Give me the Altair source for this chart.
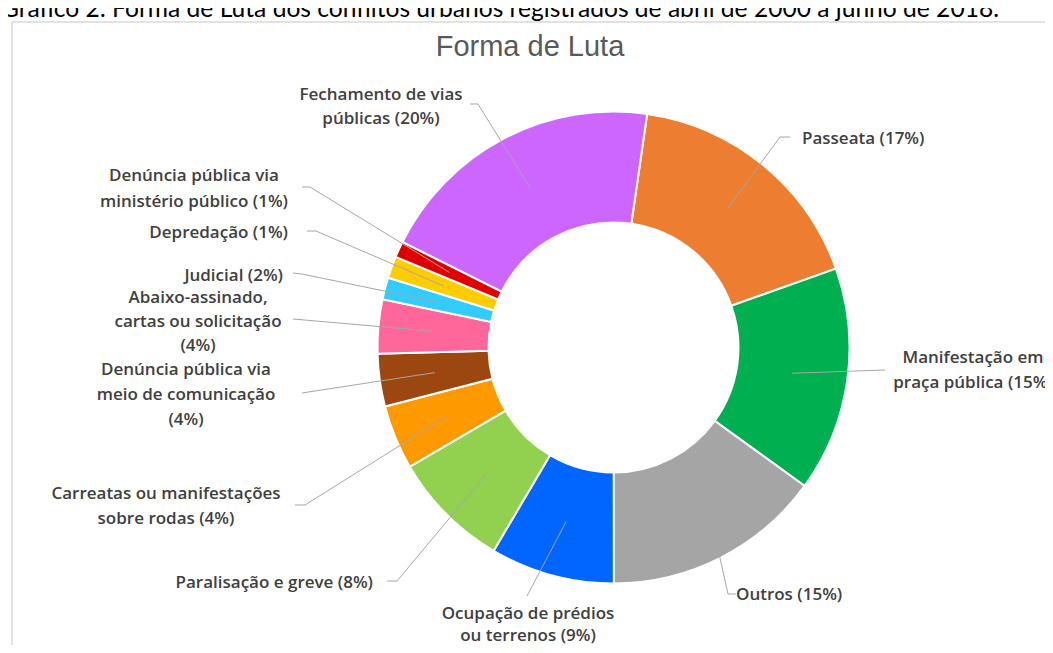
import math
import altair as alt
import pandas as pd

# ---------------- data ----------------
categories = [
    "Passeata",
    "Manifestação em praça pública",
    "Outros",
    "Ocupação de prédios ou terrenos",
    "Paralisação e greve",
    "Carreatas ou manifestações sobre rodas",
    "Denúncia pública via meio de comunicação",
    "Abaixo-assinado, cartas ou solicitação",
    "Judicial",
    "Depredação",
    "Denúncia pública via ministério público",
    "Fechamento de vias públicas",
]
values = [17.3, 15.4, 15.0, 8.5, 8.1, 4.4, 3.6, 3.7, 1.5, 1.5, 1.1, 19.9]
colors = ["#ED7D31", "#00B050", "#A5A5A5", "#0066FF", "#92D050", "#FF9900",
          "#9C4710", "#FF6699", "#33CCFF", "#FFCC00", "#E00000", "#CC66FF"]
label_lines = [
    ["Passeata  (17%)"],
    ["Manifestação  em", "praça  pública  (15%)"],
    ["Outros (15%)"],
    ["Ocupação  de prédios", "ou terrenos (9%)"],
    ["Paralisação  e greve (8%)"],
    ["Carreatas ou manifestações", "sobre rodas  (4%)"],
    ["Denúncia  pública  via", "meio de comunicação", "(4%)"],
    ["Abaixo-assinado,", "cartas ou solicitação", "(4%)"],
    ["Judicial  (2%)"],
    ["Depredação  (1%)"],
    ["Denúncia  pública  via", "ministério  público  (1%)"],
    ["Fechamento de vias", "públicas  (20%)"],
]
title_text = "Forma de Luta"
caption_text = "Gráfico 2: Forma de Luta dos conflitos urbanos registrados de abril de 2000 a junho de 2018."

# ---------------- layout (page pixels) ----------------
W, H = 1037, 637
CX, CY = 613.5, 347.5
R_OUT, R_IN = 236, 125
START = math.radians(8.2)
label_x = [802, 973, 736, 528, 373, 166, 186, 198, 283, 288, 194, 381]
label_y = [139, 358, 595, 614, 583, 494, 370, 298, 276, 233, 176, 95]
label_align = ["left", "center", "left", "center", "right", "center",
               "center", "center", "right", "right", "center", "center"]
line_gap = [0, 25, 0, 22, 0, 25, 25, 24, 0, 0, 26, 24]
leader_r = [180.5, 180.5, 232, 180.5, 180.5, 180.5, 180.5, 180.5, 180.5, 180.5, 180.5, 180.5]
elbow_x = [780, 885, 728, 527, 397, 305, 302, 293, 302, 316, 310, 478]
elbow_y = [137, 370, 594, 596, 581, 505, 393, 319, 274, 231, 187, 104]
end_x = [790, 885, 736, 527, 387, 295, 302, 293, 293, 307, 302, 470]
end_y = [137, 370, 594, 596, 581, 505, 393, 319, 273, 231, 187, 104]

LABEL_FONT = "Open Sans, Lato, sans-serif"
LABEL_COLOR = "#404040"
LEADER_COLOR = "#A6A6A6"

df = pd.DataFrame({
    "order": list(range(len(categories))),
    "category": categories,
    "value": values,
    "lr": leader_r,
    "ex": elbow_x, "ey": elbow_y,
    "tx": end_x, "ty": end_y,
})

rows = []
for i, lines in enumerate(label_lines):
    for j, line in enumerate(lines):
        rows.append({"text": line, "x": label_x[i], "y": label_y[i] + j * line_gap[i],
                     "align": label_align[i]})
labels_df = pd.DataFrame(rows)

xs = alt.Scale(domain=[8, 8 + W], range=[0, W])
ys = alt.Scale(domain=[8, 8 + H], range=[0, H])

# ---------------- donut ----------------
donut = alt.Chart(df).mark_arc(
    radius=R_OUT, radius2=R_IN, stroke="white", strokeWidth=2
).encode(
    theta=alt.Theta("value:Q", stack=True,
                    scale=alt.Scale(range=[START, START + 2 * math.pi])),
    color=alt.Color("category:N", scale=alt.Scale(domain=categories, range=colors),
                    legend=None),
    order=alt.Order("order:Q"),
    x=alt.value(CX - 8),
    y=alt.value(CY - 8),
)

# ---------------- leader lines ----------------
lead_base = alt.Chart(df).transform_joinaggregate(
    total="sum(value)"
).transform_window(
    cum="sum(value)", sort=[alt.SortField("order")], frame=[None, 0]
).transform_calculate(
    mid=f"{START} + 2*PI*(datum.cum - datum.value/2)/datum.total"
).transform_calculate(
    sx=f"{CX} + datum.lr*sin(datum.mid)",
    sy=f"{CY} - datum.lr*cos(datum.mid)",
)
lead1 = lead_base.mark_rule(color=LEADER_COLOR, strokeWidth=1).encode(
    x=alt.X("sx:Q", scale=xs, axis=None), y=alt.Y("sy:Q", scale=ys, axis=None),
    x2="ex:Q", y2="ey:Q",
)
lead2 = lead_base.mark_rule(color=LEADER_COLOR, strokeWidth=1).encode(
    x=alt.X("ex:Q", scale=xs, axis=None), y=alt.Y("ey:Q", scale=ys, axis=None),
    x2="tx:Q", y2="ty:Q",
)

# ---------------- labels ----------------
def label_layer(al):
    return alt.Chart(labels_df).transform_filter(
        alt.datum.align == al
    ).mark_text(
        align=al, baseline="middle", font=LABEL_FONT, fontSize=17,
        fontWeight=600, color=LABEL_COLOR
    ).encode(
        x=alt.X("x:Q", scale=xs, axis=None),
        y=alt.Y("y:Q", scale=ys, axis=None),
        text="text:N",
    )

labels = [label_layer(a) for a in ["left", "center", "right"]]

# ---------------- title, caption, frame ----------------
title_df = pd.DataFrame({"text": [title_text], "x": [530], "y": [47]})
title = alt.Chart(title_df).mark_text(
    align="center", baseline="middle",
    font="Liberation Sans Narrow, Liberation Sans, sans-serif",
    fontSize=29, color="#595959"
).encode(x=alt.X("x:Q", scale=xs, axis=None), y=alt.Y("y:Q", scale=ys, axis=None), text="text:N")

caption_df = pd.DataFrame({"text": [caption_text], "x": [1], "y": [17]})
caption = alt.Chart(caption_df).mark_text(
    align="left", baseline="alphabetic", font="Lato, Open Sans, sans-serif",
    fontSize=24.6, color="#000000"
).encode(x=alt.X("x:Q", scale=xs, axis=None), y=alt.Y("y:Q", scale=ys, axis=None), text="text:N")

frame_df = pd.DataFrame({"x": [12, 12], "y": [22, 22], "x2": [12, 1100], "y2": [700, 22]})
frame = alt.Chart(frame_df).mark_rule(color="#D9D9D9", strokeWidth=1.5).encode(
    x=alt.X("x:Q", scale=xs, axis=None), y=alt.Y("y:Q", scale=ys, axis=None),
    x2="x2:Q", y2="y2:Q",
)

chart = alt.layer(frame, caption, title, donut, lead1, lead2, *labels).properties(
    width=W, height=H, autosize=alt.AutoSizeParams(type="none"), padding=0,
    background="white"
).configure_view(stroke=None)

chart.save("out.html", embed_options={"renderer": "svg", "actions": False})
